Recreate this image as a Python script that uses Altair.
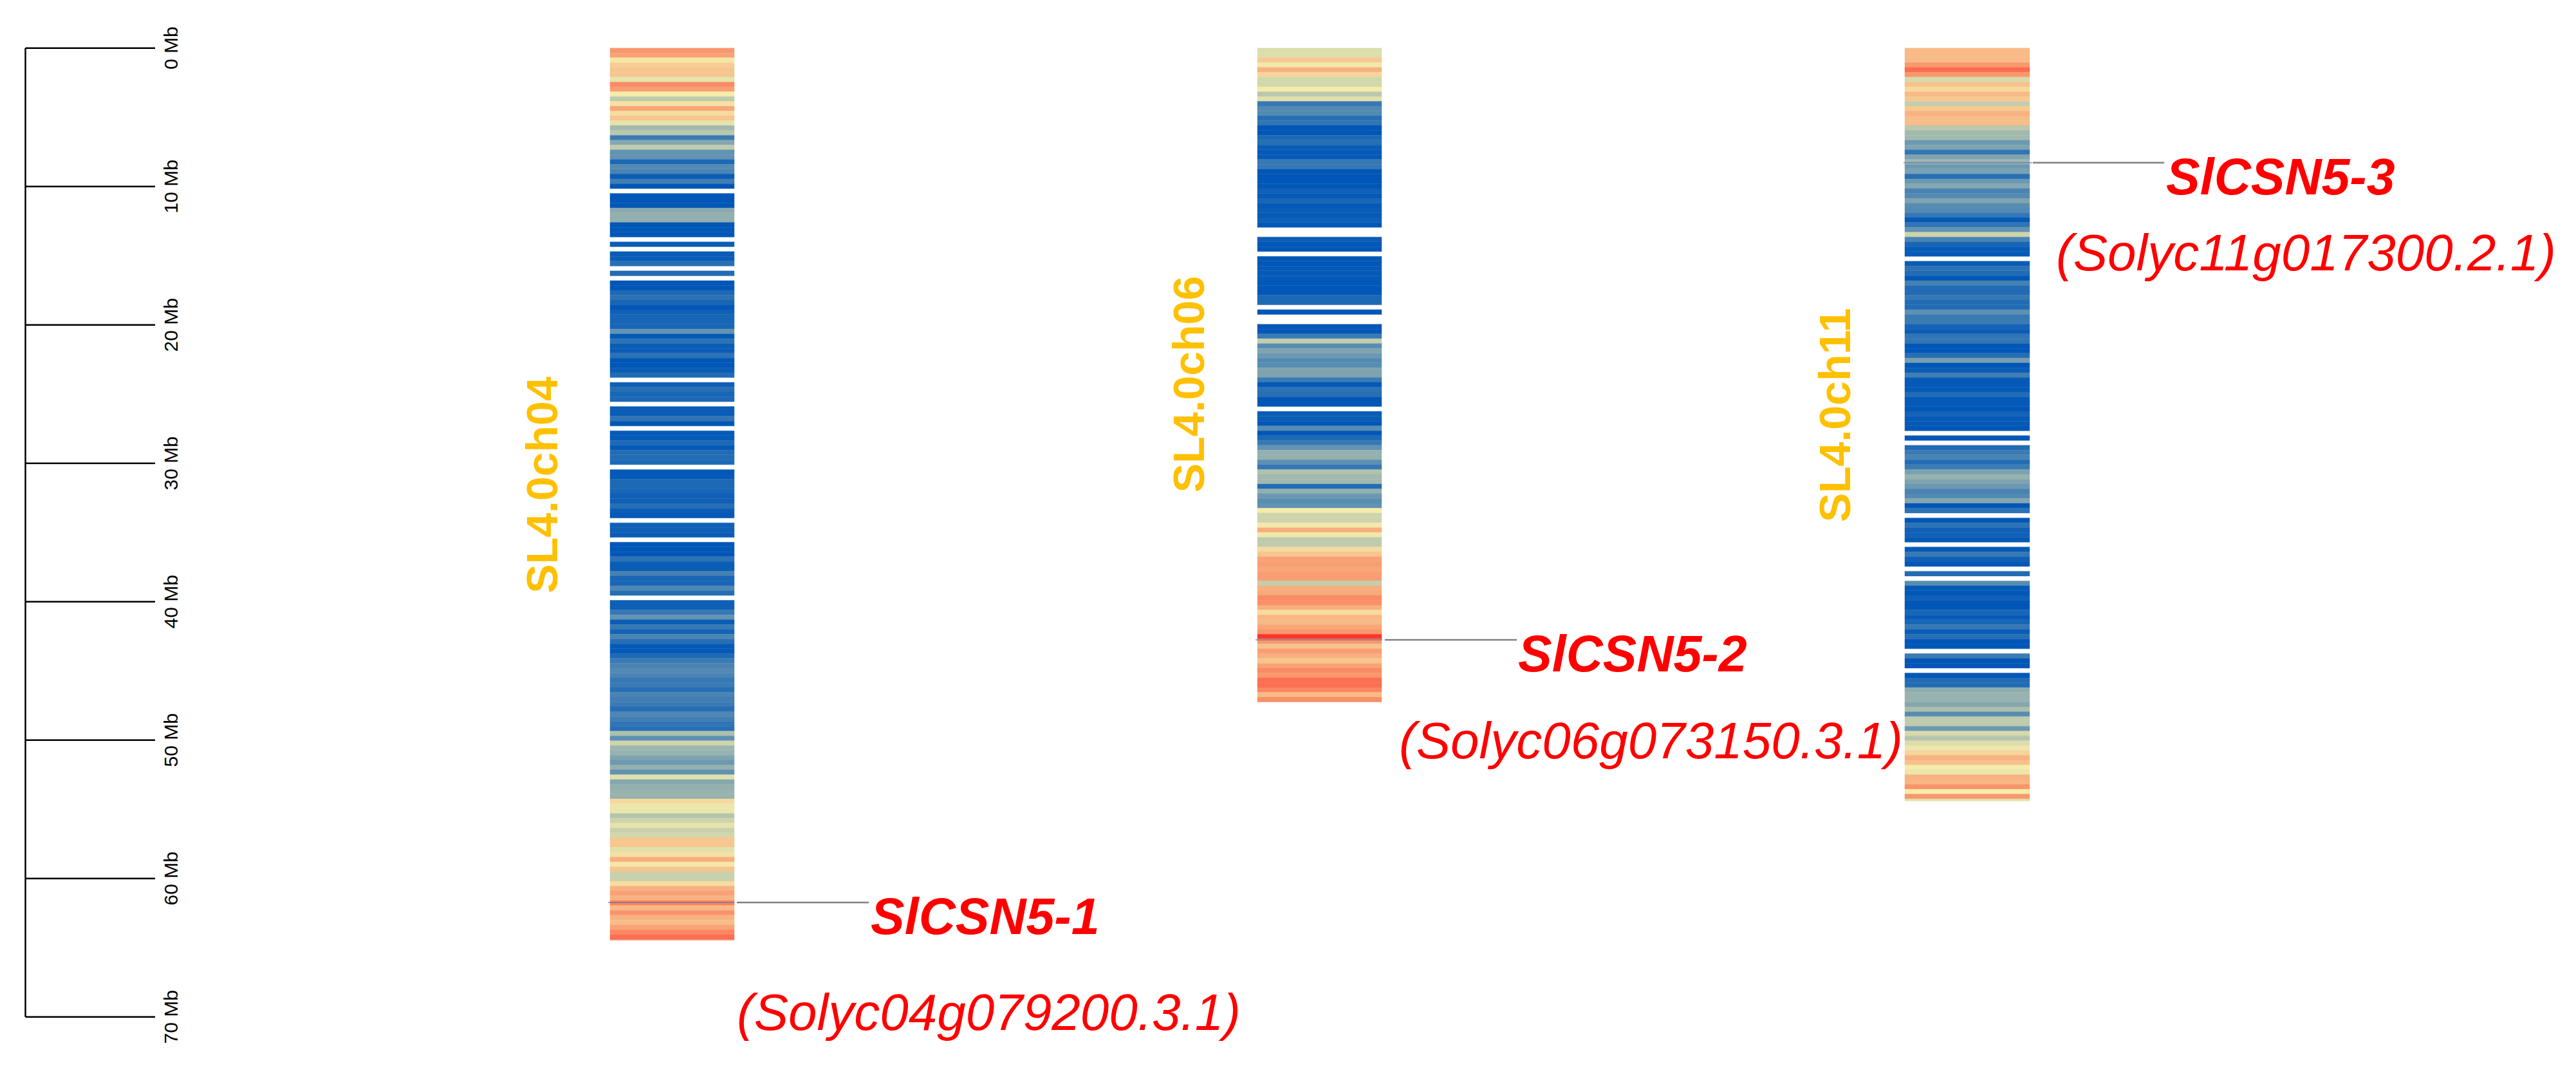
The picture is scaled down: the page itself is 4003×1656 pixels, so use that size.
import altair as alt
import pandas as pd

G = None
BIN_MB = 0.35

# Density per 0.35 Mb row (0 = low/blue, 5 = yellow, 10 = high/red). G = no data.
ch04 = [7.2,6.9,5.1,5.8,6,6,4.7,7.5,7,5,3.9,5.3,6.8,5.4,6,4.7,3.3,3.8,1.2,2.7,3.9,2,2,.6,1.7,1.5,.2,1.3,0,G,
        0,0,0,2.8,3,3,0,0,0,G,.2,G,.2,.2,.8,G,.7,G,0,0,.6,.9,.5,0,.3,.5,.5,.5,2,.1,.9,.2,.2,
        .9,0,0,.2,.7,G,.3,.8,.5,.6,G,.2,.2,1,0,G,.1,.1,.6,.1,.7,.7,.6,G,.1,.1,.6,.6,.5,.3,.3,.8,.2,.1,G,
        .3,.3,.2,G,0,0,0,.9,.2,.2,1.4,.5,.5,1.6,.8,G,.3,.3,1.1,2,.2,1.1,.4,1.5,.8,.1,.1,.6,1.2,1.5,1.7,1.5,
        1.1,1.2,.8,1.5,1.3,1.2,.8,1.6,1.3,1,.8,3.5,1.9,4.2,3.2,3.1,2.6,2.2,3,2,4.6,2.7,3,3.1,3.1,
        5.5,4.8,4.8,3.7,4.2,4.7,4.1,4.3,6,6,4.6,5.3,6.6,5.1,6,4.1,4.1,5.4,6.5,6.9,6.5,7.7,6.3,7.3,6.5,6.2,6.9,7.6,8.2,7.8]
ch06 = [4.5,4.5,5.9,4.9,6.5,5.6,4.3,4.3,5,3.8,4.6,1.1,1.7,1.7,.8,1,0,0,.6,.8,.2,.1,.1,1.1,1.1,0,0,0,0,.3,.1,.5,.1,.2,.1,.3,.05,
        G,G,.2,0,0,G,.05,0,.1,.1,.1,.05,.05,.05,.6,.6,G,0,G,G,0,0,1.2,4,1.8,2.6,2.2,1.7,1.8,2.6,2.6,1.2,.1,
        .9,.8,0,0,G,.2,.2,0,1.8,0,.6,1.1,2,3,3,1.9,1.1,3.6,3.3,3.3,.7,3,2.2,1.8,2,
        5,4.2,4.2,4.9,6.6,4.9,3.9,3.9,5.5,6,6.9,7,6.8,7,7,4,6.6,6.7,7.5,7.4,6.6,5.4,6.4,6.3,6.8,7.2,9.7,
        7.2,6.1,7,6.6,6,6.9,7.5,7.2,8.2,8.2,7.6,6.3,7.4]
ch11 = [6.3,6.3,6.3,7.2,8.3,7.2,4.4,6.1,5.5,6.3,5.9,4,5.9,6.5,6.2,6.2,3.8,3.3,3.3,2.2,2.6,1,2.6,3.2,2.2,2.5,.8,2.2,2.7,1.5,1.7,2.6,1.8,1.7,1.1,.1,1,2,4.2,1.5,.5,.1,.1,
        G,.2,.9,.7,0,1.4,.7,.7,1.1,.7,.7,1.9,1.2,1.2,.4,.2,1,1,0,0,.8,2.4,0,.2,1.3,.1,.1,.1,.7,.1,.1,0,.4,
        .1,.1,0,G,0,G,.7,1.2,1.5,.7,1.2,2.5,3.1,2.6,2.2,1.5,1.7,2.7,0,.9,G,0,.9,.3,.3,.1,G,.1,1.1,.3,0,G,.7,G,
        1.8,.1,0,.3,0,0,.5,.1,.5,1.1,.2,.8,0,0,G,1.2,0,0,G,0,.7,.7,2.9,3.1,3.1,2.7,3.5,1.8,3.9,3.9,2.2,4.4,3.7,4.5,4.8,
        5.6,6.5,6.1,5,4.8,6.5,6.4,7.3,5,7.2,4.6]

chrom_names = ["SL4.0ch04", "SL4.0ch06", "SL4.0ch11"]
chrom_rows = [ch04, ch06, ch11]
chrom_lengths_mb = [64.46, 47.25, 54.4]
chrom_left = [948, 1954, 2960]
chrom_right = [1141, 2147, 3154]

axis_ticks_mb = [0, 10, 20, 30, 40, 50, 60, 70]

gene_names = ["SlCSN5-1", "SlCSN5-2", "SlCSN5-3"]
gene_ids = ["(Solyc04g079200.3.1)", "(Solyc06g073150.3.1)", "(Solyc11g017300.2.1)"]
gene_pos_mb = [61.74, 42.76, 8.28]

# Layout of the annotations, in the chart's own units
PY0, PX_PER_MB = 74.7, 21.5
def mb(py):
    return (py - PY0) / PX_PER_MB

rows = []
for name, vals, length, l, r in zip(chrom_names, chrom_rows, chrom_lengths_mb, chrom_left, chrom_right):
    for i, v in enumerate(vals):
        if v is None:
            continue
        start = i * BIN_MB
        if start >= length:
            continue
        rows.append(dict(chrom=name, l=l, r=r, v=v, s=start, e=min((i + 1) * BIN_MB, length)))
bars = pd.DataFrame(rows)

x_scale = alt.Scale(domain=[8, 3995], nice=False, zero=False)
y_scale = alt.Scale(domain=[mb(1648), mb(8)], nice=False, zero=False)
X = lambda f: alt.X(f, type="quantitative", scale=x_scale, axis=None)
Y = lambda f: alt.Y(f, type="quantitative", scale=y_scale, axis=None)
col_scale = alt.Scale(domain=[0, 5, 10], range=["#0057b7", "#f5ecaa", "#ff2a20"], interpolate="rgb")

strip = alt.Chart(bars).mark_rect(strokeWidth=0.4).encode(
    x=X("l"), x2="r", y=Y("s"), y2="e",
    fill=alt.Fill("v:Q", scale=col_scale, legend=None),
    stroke=alt.Stroke("v:Q", scale=col_scale, legend=None),
)

# Scale bar
ticks = pd.DataFrame({"mb": axis_ticks_mb, "a": 39.5, "b": 241, "t": 276,
                      "label": [f"{m} Mb" for m in axis_ticks_mb]})
spine = alt.Chart(pd.DataFrame({"a": [39.5], "s": [axis_ticks_mb[0]], "e": [axis_ticks_mb[-1]]})).mark_rule(
    color="#000000", strokeWidth=2.5).encode(x=X("a"), y=Y("s"), y2="e")
tick_rules = alt.Chart(ticks).mark_rule(color="#000000", strokeWidth=2.5).encode(x=X("a"), x2="b", y=Y("mb"))
tick_text = alt.Chart(ticks).mark_text(
    font="Liberation Sans", fontSize=30, angle=270, align="center", baseline="alphabetic", color="#000000"
).encode(x=X("t"), y=Y("mb"), text="label:N")

# Chromosome names
chrom_lab = pd.DataFrame({"name": chrom_names, "x": [866, 1871, 2875],
                          "y": [mb(753.5), mb(597), mb(645)]})
chrom_text = alt.Chart(chrom_lab).mark_text(
    font="Liberation Sans", fontSize=68, fontWeight="bold", angle=270, align="center",
    baseline="alphabetic", color="#FFC000"
).encode(x=X("x"), y=Y("y"), text="name:N")

# Gene leaders and labels
leaders = pd.DataFrame({
    "mb": gene_pos_mb,
    "inA": [945, 1951, 2958], "inB": [1141, 2148, 3158],
    "outA": [1145, 2152, 3159], "outB": [1350, 2357, 3363],
    "nx": [1353, 2359, 3366], "ny": [mb(1451), mb(1043), mb(302)],
    "ix": [1145, 2174, 3195], "iy": [mb(1600), mb(1178), mb(420)],
    "name": gene_names, "gid": gene_ids,
})
on_bar = alt.Chart(leaders).mark_rule(color="#5a6eb0", strokeWidth=2, opacity=0.6).encode(
    x=X("inA"), x2="inB", y=Y("mb"))
off_bar = alt.Chart(leaders).mark_rule(color="#808080", strokeWidth=2.5).encode(
    x=X("outA"), x2="outB", y=Y("mb"))
name_text = alt.Chart(leaders).mark_text(
    font="Liberation Sans", fontSize=79, fontWeight="bold", fontStyle="italic", align="left",
    baseline="alphabetic", color="#ff0000"
).encode(x=X("nx"), y=Y("ny"), text="name:N")
id_text = alt.Chart(leaders).mark_text(
    font="Liberation Sans", fontSize=80, fontStyle="italic", align="left",
    baseline="alphabetic", color="#ff0000"
).encode(x=X("ix"), y=Y("iy"), text="gid:N")

chart = alt.layer(strip, spine, tick_rules, tick_text, chrom_text, on_bar, off_bar, name_text, id_text).properties(
    width=3987, height=1640, padding=0, background="white",
    autosize=alt.AutoSizeParams(type="none"),
).configure_view(stroke=None)

chart.save("out.html", embed_options={"renderer": "svg", "actions": False})
